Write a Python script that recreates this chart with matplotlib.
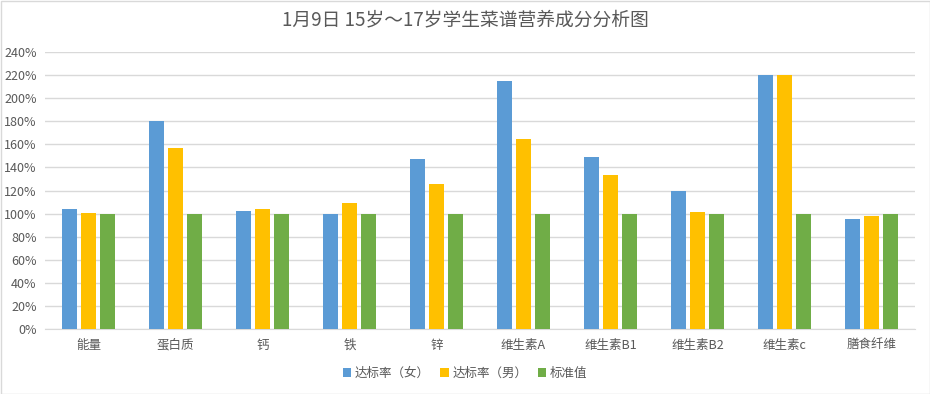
import matplotlib
matplotlib.use("Agg")
import matplotlib.pyplot as plt
import numpy as np
from matplotlib.patches import Rectangle
from matplotlib.ticker import FuncFormatter

plt.rcParams['font.family'] = ['Noto Sans CJK SC', 'DejaVu Sans']

categories = ["能量", "蛋白质", "钙", "铁", "锌", "维生素A", "维生素B1", "维生素B2", "维生素c", "膳食纤维"]
female = [104, 180, 102, 100, 147, 215, 149, 120, 220, 95]
male = [100.5, 157, 104, 109, 126, 165, 133.5, 101.5, 220, 98]
standard = [100, 100, 100, 100, 100, 100, 100, 100, 100, 100]
series_names = ["达标率（女）", "达标率（男）", "标准值"]
colors = ["#5B9BD5", "#FFC000", "#70AD47"]

fig = plt.figure(figsize=(9.3, 3.94), dpi=100)
ax = fig.add_axes([45 / 930, 1 - 329 / 394, 870 / 930, 277 / 394])

x = np.arange(len(categories))
w = 0.175
step = 0.22
for i, (vals, name, c) in enumerate(zip([female, male, standard], series_names, colors)):
    ax.bar(x + (i - 1) * step, vals, width=w, color=c, label=name, zorder=3)

ax.set_xlim(-0.5, len(categories) - 0.5)
ax.set_ylim(0, 240)
ax.set_yticks(np.arange(0, 241, 20))
ax.yaxis.set_major_formatter(FuncFormatter(lambda v, p: f"{int(v)}%"))
ax.set_xticks(x)
ax.set_xticklabels(categories)
ax.grid(axis="y", color="#D9D9D9", linewidth=1, zorder=0)
for s in ["top", "right", "left"]:
    ax.spines[s].set_visible(False)
ax.spines["bottom"].set_color("#D9D9D9")
ax.tick_params(axis="both", length=0, colors="#595959", labelsize=9)
ax.tick_params(axis="x", pad=7)
ax.tick_params(axis="y", pad=6)

fig.text(0.5, 1 - 20 / 394, "1月9日 15岁～17岁学生菜谱营养成分分析图", ha="center", va="center",
         fontsize=13.5, color="#595959")

leg = fig.legend(loc="center", bbox_to_anchor=(0.5, 1 - 373 / 394), ncol=3, frameon=False,
                 fontsize=9, handlelength=0.7, handleheight=0.7, handletextpad=0.3,
                 columnspacing=0.8, labelcolor="#595959")

fig.patches.append(Rectangle((0.5 / 930, 0.5 / 394), 1 - 1 / 930, 1 - 1 / 394,
                             transform=fig.transFigure, fill=False, edgecolor="#D9D9D9", linewidth=1))

fig.savefig("out.png", dpi=100)
